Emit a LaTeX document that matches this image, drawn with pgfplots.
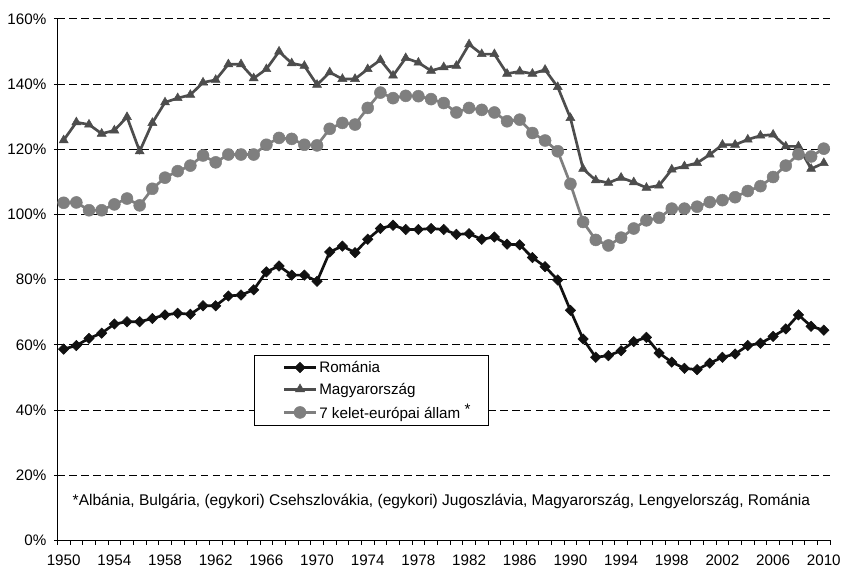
\documentclass[border=0pt]{standalone}
\usepackage{fontspec}
\setmainfont{Liberation Sans}
\usepackage{pgfplots}
\usepackage{pgfplotstable}
\pgfplotsset{compat=1.18}
\definecolor{romc}{HTML}{111111}
\definecolor{hunc}{HTML}{4D4D4D}
\definecolor{eac}{HTML}{7F7F7F}
\pgfplotstableread{
year rom hun ea
1950 58.7 122.8 103.6
1951 59.8 128.3 103.7
1952 62.0 127.6 101.3
1953 63.6 124.8 101.3
1954 66.4 125.8 103.1
1955 67.1 129.9 104.9
1956 67.1 119.4 102.8
1957 68.1 128.1 107.9
1958 69.2 134.4 111.3
1959 69.7 135.7 113.3
1960 69.4 136.7 115.0
1961 72.0 140.5 118.1
1962 72.0 141.3 116.0
1963 75.0 146.1 118.4
1964 75.3 146.1 118.4
1965 76.9 141.8 118.4
1966 82.4 144.6 121.4
1967 84.2 150.0 123.5
1968 81.4 146.4 123.2
1969 81.4 145.6 121.4
1970 79.5 139.8 121.2
1971 88.5 143.6 126.3
1972 90.3 141.6 128.1
1973 88.3 141.6 127.6
1974 92.4 144.6 132.7
1975 95.7 147.4 137.4
1976 96.7 142.6 135.7
1977 95.4 148.0 136.4
1978 95.4 146.6 136.3
1979 95.7 144.1 135.4
1980 95.4 145.2 134.2
1981 93.9 145.6 131.3
1982 94.1 152.2 132.7
1983 92.4 149.2 132.1
1984 93.1 149.2 131.3
1985 90.9 143.2 128.6
1986 90.7 143.9 129.1
1987 86.8 143.2 125.0
1988 84.0 144.4 122.7
1989 79.9 139.1 119.4
1990 70.6 129.6 109.4
1991 61.8 114.0 97.7
1992 56.2 110.5 92.2
1993 56.7 109.7 90.5
1994 58.2 111.3 92.9
1995 61.0 109.9 95.7
1996 62.3 108.2 98.2
1997 57.5 108.9 99.0
1998 54.7 113.8 101.8
1999 52.8 114.8 101.8
2000 52.4 115.8 102.4
2001 54.4 118.4 103.8
2002 56.2 121.4 104.4
2003 57.2 121.4 105.3
2004 59.8 123.0 107.2
2005 60.5 124.2 108.7
2006 62.6 124.5 111.5
2007 64.9 120.9 115.0
2008 69.2 120.9 118.5
2009 65.7 114.0 117.8
2010 64.5 115.8 120.2
}\datatable
\begin{document}
\begin{tikzpicture}
\begin{axis}[
  scale only axis,
  width=775bp, height=523bp,
  xmin=1949.5, xmax=2010.5,
  ymin=0, ymax=160,
  axis x line*=bottom, axis y line*=left,
  axis line style={black, line width=1.2bp, -},
  xtick={1950,1954,...,2010},
  minor xtick={1949.5,1950.5,...,2010.5},
  x tick label style={/pgf/number format/1000 sep={}},
  xticklabel style={yshift=-3.5bp},
  yticklabel style={xshift=-4bp},
  major x tick style={draw=none},
  minor x tick style={black, line width=0.9bp},
  minor tick length=4.5bp,
  tick align=outside,
  ytick={0,20,...,160},
  yticklabel={\pgfmathprintnumber{\tick}\%},
  y tick style={black, line width=0.9bp},
  ytick align=center,
  major tick length=7bp,
  ymajorgrids,
  major grid style={black, line width=0.9bp, dash pattern=on 7.5bp off 4.5bp},
  /pgf/number format/assume math mode=true,
  tick label style={font=\fontsize{15.3}{18}\selectfont},
  legend style={at={(rel axis cs:0.255,0.355)}, anchor=north west,
    draw=black, line width=0.8bp, fill=white,
    font=\fontsize{15.3}{18}\selectfont,
    inner xsep=2bp, inner ysep=3.5bp,
    row sep=5bp,
    legend cell align=left},
  legend image code/.code={
    \path (-26bp,0bp);
    \draw[mark repeat=2,mark phase=2] plot coordinates {(0bp,0bp) (16bp,0bp) (32bp,0bp)};
  },
  clip=false,
]
\addplot[romc, line width=2.7bp, mark=square*, mark size=3.7bp, mark options={rotate=45, fill=romc, draw=romc, line width=0.5bp}] table[x=year,y=rom]{\datatable};
\addlegendentry{Románia}
\addplot[hunc, line width=2.7bp, mark=triangle*, mark size=5.2bp, mark options={fill=hunc, draw=hunc, line width=0.5bp}] table[x=year,y=hun]{\datatable};
\addlegendentry{Magyarország}
\addplot[eac, line width=2.7bp, mark=*, mark size=6bp, mark options={fill=eac, draw=eac, line width=0.5bp}] table[x=year,y=ea]{\datatable};
\addlegendentry{7 kelet-európai állam \raisebox{4bp}{*}\hspace*{14bp}\rule[-10bp]{0pt}{1bp}}
\node[anchor=west, font=\fontsize{15.6}{18}\selectfont, inner sep=0pt] at (axis cs:1950.7,12) {*Albánia, Bulgária, (egykori) Csehszlovákia, (egykori) Jugoszlávia, Magyarország, Lengyelország, Románia};
\end{axis}
\path ([xshift=-57.5bp,yshift=-27bp]current axis.south west) rectangle ++(844bp,569bp);
\end{tikzpicture}
\end{document}
